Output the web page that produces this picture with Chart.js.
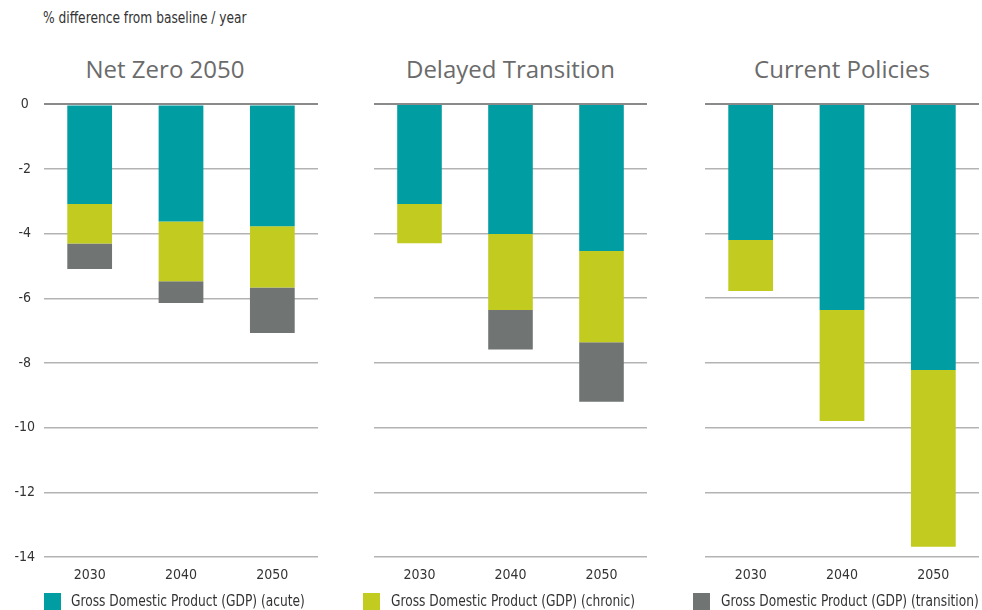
<!DOCTYPE html>
<html>
<head>
<meta charset="utf-8">
<script src="https://cdn.jsdelivr.net/npm/chart.js@4.4.1/dist/chart.umd.min.js"></script>
<style>
  html, body { margin: 0; padding: 0; background: #fff; }
  body { width: 982px; height: 610px; position: relative; overflow: hidden;
         font-family: 'DejaVu Sans Condensed', 'Open Sans', sans-serif; }
  .cap { position: absolute; left: 43px; top: 9px; font-size: 15px; color: #333; white-space: nowrap;
         transform: scaleX(0.907); transform-origin: 0 0; }
  .ttl { position: absolute; top: 52px; font-family: 'Open Sans', sans-serif; font-size: 24px; color: #6b6b6b;
         text-align: center; white-space: nowrap; }
  .cv { position: absolute; top: 94px; height: 500px; }
  .leg { position: absolute; top: 593px; font-size: 15px; color: #333; white-space: nowrap; line-height: 17px; }
  .leg i { position: absolute; left: 0; top: 0; width: 17px; height: 17px; }
  .leg span { position: absolute; top: 0; transform: scaleX(0.907); transform-origin: 0 0; }
</style>
</head>
<body>
<div class="cap">% difference from baseline / year</div>
<div class="ttl" id="t0" style="left:0;width:330px;"></div>
<div class="ttl" id="t1" style="left:374px;width:273px;"></div>
<div class="ttl" id="t2" style="left:705px;width:274px;"></div>
<div class="cv" style="left:0;width:318px;top:87px;height:507px;"><canvas id="c0"></canvas></div>
<div class="cv" style="left:374px;width:273px;"><canvas id="c1"></canvas></div>
<div class="cv" style="left:705px;width:274px;"><canvas id="c2"></canvas></div>
<div class="leg" style="left:44px;"><i id="s0"></i><span id="l0" style="left:27px;"></span></div>
<div class="leg" style="left:363px;"><i id="s1"></i><span id="l1" style="left:28px;"></span></div>
<div class="leg" style="left:693px;"><i id="s2"></i><span id="l2" style="left:28px;"></span></div>
<script>
const categories = ['2030', '2040', '2050'];
const scenarios = ['Net Zero 2050', 'Delayed Transition', 'Current Policies'];
const seriesNames = ['Gross Domestic Product (GDP) (acute)', 'Gross Domestic Product (GDP) (chronic)', 'Gross Domestic Product (GDP) (transition)'];
const seriesColors = ['#009da2', '#c2cb1f', '#707574'];

const netZeroAcute = [-3.08, -3.62, -3.77];
const netZeroChronic = [-1.22, -1.85, -1.89];
const netZeroTransition = [-0.79, -0.67, -1.41];

const delayedAcute = [-3.09, -4.02, -4.54];
const delayedChronic = [-1.21, -2.35, -2.82];
const delayedTransition = [0, -1.22, -1.84];

const currentAcute = [-4.20, -6.37, -8.22];
const currentChronic = [-1.58, -3.43, -5.46];
const currentTransition = [0, 0, 0];

const yMin = -14, yMax = 0, yStep = 2;

const panels = [
  [netZeroAcute, netZeroChronic, netZeroTransition],
  [delayedAcute, delayedChronic, delayedTransition],
  [currentAcute, currentChronic, currentTransition]
];

const tickFont = { family: "'DejaVu Sans Condensed', sans-serif", size: 14 };

scenarios.forEach((s, i) => { document.getElementById('t' + i).textContent = s; });
seriesNames.forEach((s, i) => {
  document.getElementById('l' + i).textContent = s;
  document.getElementById('s' + i).style.background = seriesColors[i];
});

panels.forEach((series, p) => {
  const showY = p === 0;
  new Chart(document.getElementById('c' + p), {
    type: 'bar',
    data: {
      labels: categories,
      datasets: series.map((vals, k) => ({
        label: seriesNames[k],
        data: vals,
        backgroundColor: seriesColors[k],
        borderWidth: 0,
        categoryPercentage: 1,
        barPercentage: 0.49
      }))
    },
    options: {
      responsive: true,
      maintainAspectRatio: false,
      animation: false,
      layout: { autoPadding: false, padding: { top: 10, bottom: 0, left: 0, right: 0 } },
      plugins: { legend: { display: false }, tooltip: { enabled: false }, title: { display: false } },
      scales: {
        x: {
          stacked: true,
          grid: { display: false, drawTicks: false },
          border: { display: false },
          ticks: { color: '#333', font: tickFont, padding: 10, maxRotation: 0 },
          afterFit: (sc) => { sc.height = 37; }
        },
        y: {
          stacked: true,
          min: yMin, max: yMax,
          border: { display: false },
          grid: {
            drawTicks: false,
            color: (ctx) => (ctx.tick && ctx.tick.value === 0) ? '#8a8a8a' : '#b3b3b3',
            lineWidth: (ctx) => (ctx.tick && ctx.tick.value === 0) ? 2 : 1.5
          },
          ticks: { display: showY, stepSize: yStep, color: '#333', font: tickFont, padding: 9, crossAlign: 'center' },
          afterFit: (sc) => { sc.width = showY ? 44 : 0; }
        }
      }
    }
  });
});
</script>
</body>
</html>
